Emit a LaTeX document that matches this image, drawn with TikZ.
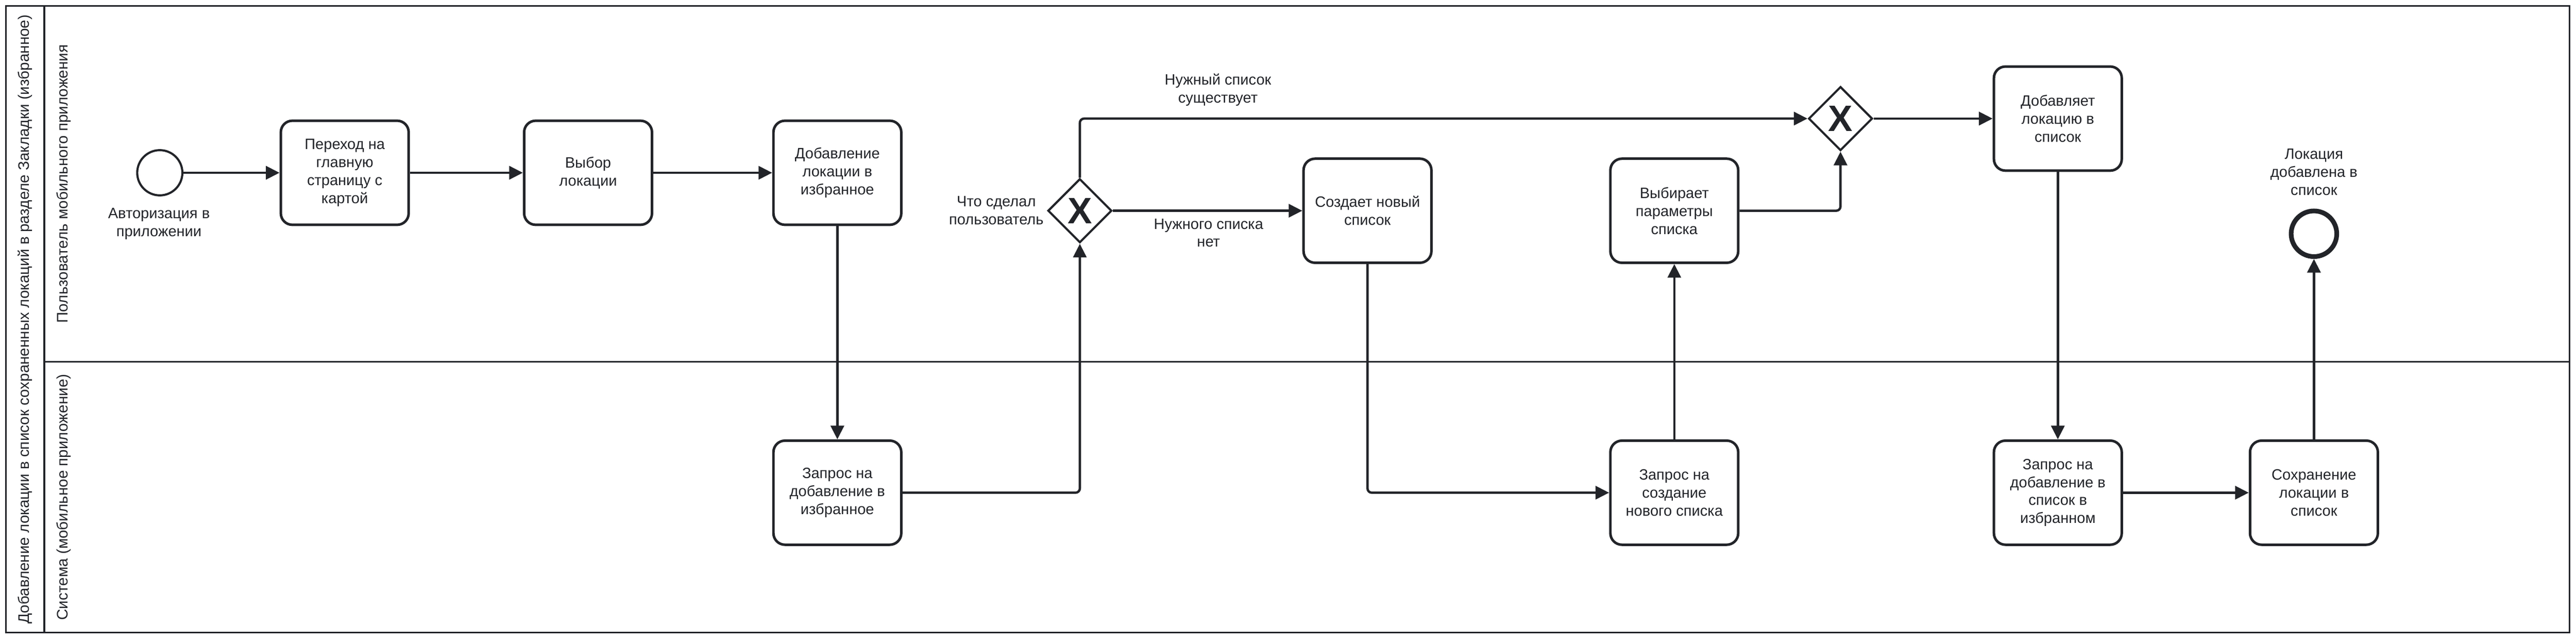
\documentclass[tikz,border=0pt]{standalone}
\usepackage{fontspec}
\setmainfont{Liberation Sans}
\usetikzlibrary{arrows.meta,shapes.geometric}
\definecolor{ink}{HTML}{222429}
\begin{document}
\begin{tikzpicture}[
        every node/.style={text=ink,align=center,font=\fontsize{10}{12}\selectfont},
        task/.style={draw=ink,line width=0.06cm,rounded corners=0.27cm,minimum width=3cm,minimum height=2.44cm,inner sep=0},
        gateway/.style={draw=ink,diamond,line width=0.05cm,minimum size=1.5cm,inner sep=0,font=\fontsize{24.5}{24.5}\selectfont\bfseries},
        startevent/.style={draw=ink,circle,line width=0.05cm,minimum size=1.06cm,inner sep=0},
        endevent/.style={draw=ink,circle,line width=0.11cm,minimum size=1.07cm,inner sep=0},
        lanelabel/.style={rotate=90,font=\fontsize{10.2}{12}\selectfont},
        flow/.style={draw=ink,line width=0.055cm,rounded corners=0.1cm,-{Triangle[length=0.32cm,width=0.31cm]}}
    ]
    \useasboundingbox (0,0) rectangle (60.45,-15);
    \draw[ink,line width=0.04cm] (0.14,-0.14) rectangle (60.30,-14.83);
    \draw[ink,line width=0.04cm] (1.04,-0.14) -- (1.04,-14.83);
    \draw[ink,line width=0.04cm] (1.04,-8.48) -- (60.30,-8.48);
    \node[lanelabel] (pool) at (0.59,-7.485) {Добавление локации в список сохраненных локаций в разделе Закладки (избранное)};
    \node[lanelabel] (laneuser) at (1.50,-4.31) {Пользователь мобильного приложения};
    \node[lanelabel] (lanesys) at (1.50,-11.655) {Система (мобильное приложение)};

    \node[startevent] (start) at (3.75,-4.05) {};
    \node (startlbl) at (3.73,-5.25) {Авторизация в\\приложении};
    \node[task] (mainpage) at (8.09,-4.05) {Переход на\\главную\\страницу с\\картой};
    \node[task] (choose) at (13.80,-4.05) {Выбор\\локации};
    \node[task] (addfav) at (19.65,-4.05) {Добавление\\локации в\\избранное};
    \node[gateway] (gwwhat) at (25.34,-4.94) {X};
    \node (gwwhatlbl) at (23.38,-4.93) {Что сделал\\пользователь};
    \node[task] (newlist) at (32.09,-4.94) {Создает новый\\список};
    \node[task] (params) at (39.29,-4.94) {Выбирает\\параметры\\списка};
    \node[gateway] (gwjoin) at (43.19,-2.78) {X};
    \node[task] (addtolist) at (48.29,-2.78) {Добавляет\\локацию в\\список};
    \node[endevent] (finish) at (54.30,-5.48) {};
    \node (finishlbl) at (54.30,-4.03) {Локация\\добавлена в\\список};
    \node (existslbl) at (28.58,-2.11) {Нужный список\\существует};
    \node (nonelbl) at (28.36,-5.46) {Нужного списка\\нет};

    \node[task] (reqfav) at (19.65,-11.55) {Запрос на\\добавление в\\избранное};
    \node[task] (reqnew) at (39.29,-11.55) {Запрос на\\создание\\нового списка};
    \node[task] (reqlist) at (48.29,-11.55) {Запрос на\\добавление в\\список в\\избранном};
    \node[task] (save) at (54.30,-11.55) {Сохранение\\локации в\\список};

    \draw[flow] (start) -- (mainpage);
    \draw[flow] (mainpage) -- (choose);
    \draw[flow] (choose) -- (addfav);
    \draw[flow] (addfav.south) -- (reqfav.north);
    \draw[flow] (reqfav.east) -| (gwwhat.south);
    \draw[flow] (gwwhat.east) -- (newlist.west);
    \draw[flow] (gwwhat.north) |- (gwjoin.west);
    \draw[flow] (newlist.south) |- (reqnew.west);
    \draw[flow] (reqnew.north) -- (params.south);
    \draw[flow] (params.east) -| (gwjoin.south);
    \draw[flow] (gwjoin.east) -- (addtolist.west);
    \draw[flow] (addtolist.south) -- (reqlist.north);
    \draw[flow] (reqlist.east) -- (save.west);
    \draw[flow] (save.north) -- (finish.south);
\end{tikzpicture}
\end{document}
